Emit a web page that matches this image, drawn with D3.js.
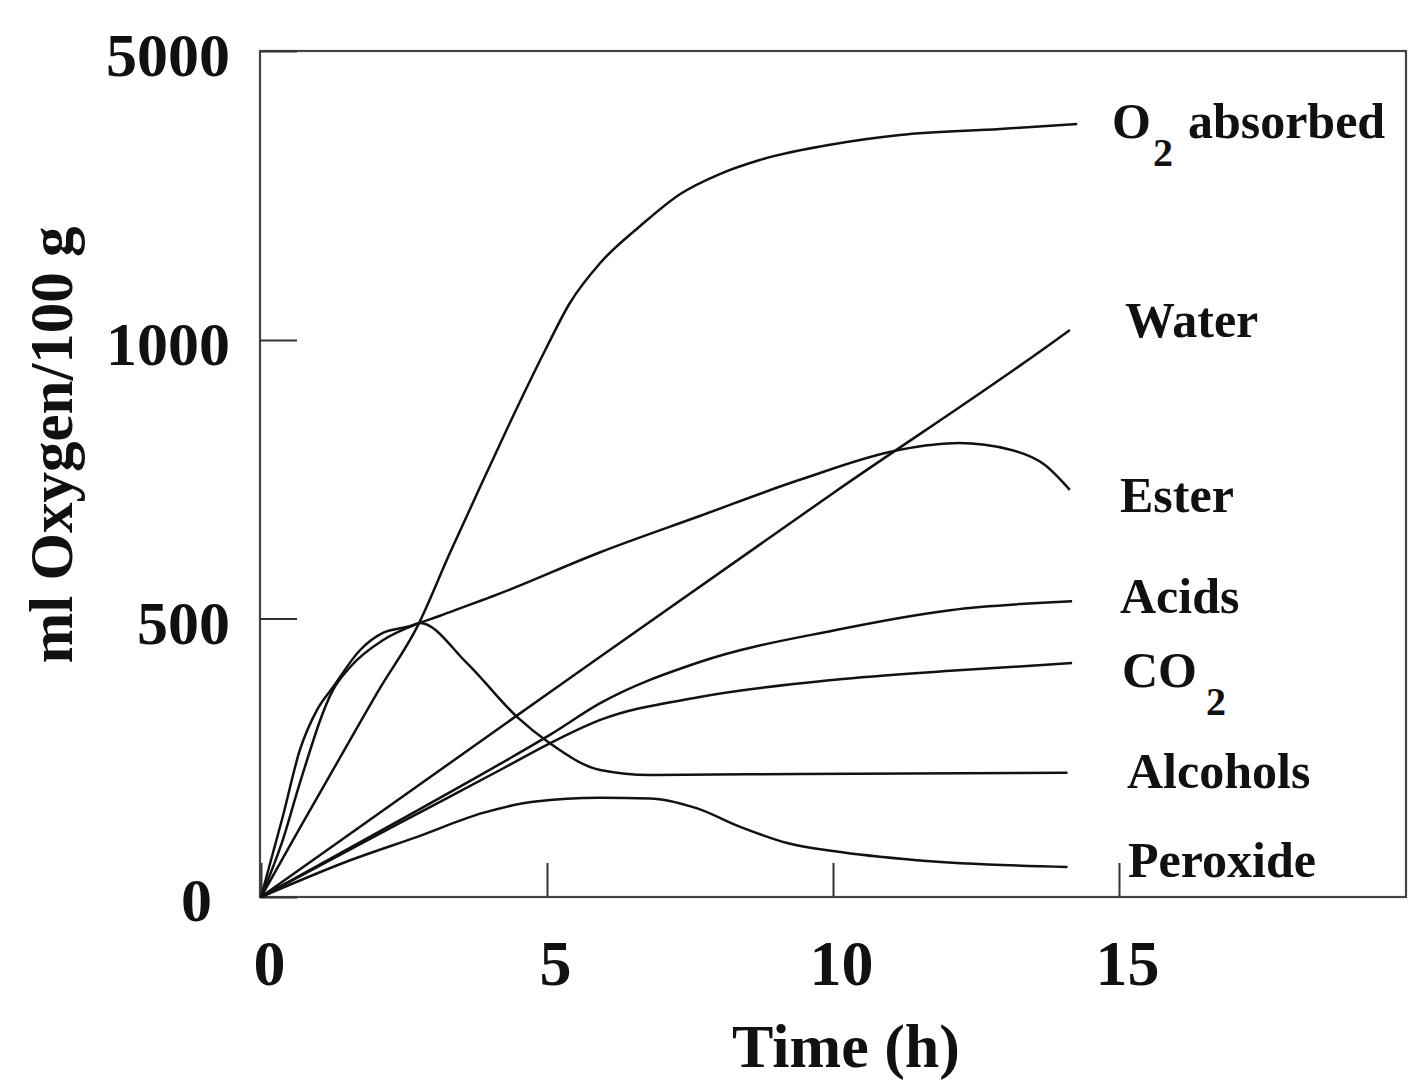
<!DOCTYPE html>
<html>
<head>
<meta charset="utf-8">
<script src="https://cdn.jsdelivr.net/npm/d3@7"></script>
<style>
  body{margin:0;background:#fff;}
  svg{display:block;}
  text{font-family:"Liberation Serif","Times New Roman",serif;font-weight:bold;fill:#111;}
</style>
</head>
<body>
<svg width="1409" height="1083"></svg>
<script>
/* data: [time (h), ml oxygen / 100 g] */
const timeTicks=[0,5,10,15];
const oxygenTicks=[0,500,1000,5000];

const o2Absorbed=[[0,0],[0.68,124],[1.38,250],[2.08,375],[2.73,485],[3.3,617],[3.83,736],[4.35,851],[4.97,982],
    [5.4,1512],[5.93,2066],[6.63,2578],[7.33,3021],[8.02,3297],[8.72,3491],[10.03,3713],[11.17,3837],[12.92,3920],[14.27,3989]];
const water=[[0,0],[5,364],[10,725],[13.9,1000],[14.14,1138]];
const ester=[[0,0],[0.38,102],[0.68,205],[1.26,372],[1.56,413],[2.13,461],[2.6,485],[3.13,505],[4.18,545],
    [5.93,619],[7.67,684],[9.42,749],[11.17,803],[12.2,815],[13.1,803],[13.7,776],[14.14,731]];
const acids=[[0,0],[2.43,138],[4.18,239],[5.05,291],[5.93,348],[7.67,422],[10.03,479],[12.05,515],[14.18,531]];
const co2=[[0,0],[2.43,133],[4.18,228],[5.05,276],[5.93,318],[7.67,359],[10.03,390],[12.05,406],[14.18,420]];
const alcohols=[[0,0],[0.38,144],[0.68,264],[0.98,336],[1.26,377],[1.73,443],[2.13,474],[2.6,486],[2.78,492],
    [3.6,420],[4.48,323],[5.05,276],[5.93,228],[6.8,219],[9.42,221],[14.1,223]];
const peroxide=[[0,0],[1.56,66],[2.73,108],[3.88,151],[4.76,171],[5.93,178],[6.8,177],[7.6,160],[8.4,125],
    [9.2,97],[10.03,82],[11.47,66],[14.1,54]];

const seriesList=[o2Absorbed,water,ester,acids,co2,alcohols,peroxide];

/* labels at the right end: main text, subscript, rest */
const labelMain=['O','Water','Ester','Acids','CO','Alcohols','Peroxide'];
const labelSub=['2','','','','2','',''];
const labelRest=['absorbed','','','','','',''];
const labelX=[1112,1125,1120,1120,1122,1127,1128];
const labelY=[138,337,512,613,687,788,877];

const svg=d3.select('svg');

const x=d3.scaleLinear()
    .domain([0,20])
    .range([261,1405]);

/* broken axis: 0-1000 linear, 1000-5000 squeezed into the top */
const y=d3.scaleLinear()
    .domain([0,1000,5000])
    .range([897,340,51]);

/* frame */
svg.append('rect')
    .attr('x',x(0)-1)
    .attr('y',y(5000))
    .attr('width',x(20)-x(0)+2)
    .attr('height',y(0)-y(5000))
    .attr('fill','none')
    .attr('stroke','#444')
    .attr('stroke-width',2.2)
    ;

const yAxis=svg.append('g')
    .attr('transform',`translate(${x(0)-1},0)`)
    .call(d3.axisLeft(y)
        .tickValues(oxygenTicks)
        .tickFormat(d3.format('d'))
        .tickSizeInner(-37)
        .tickSizeOuter(0)
        .tickPadding(30));
yAxis.select('.domain').remove();
yAxis.selectAll('line').attr('stroke','#333').attr('stroke-width',2);
yAxis.selectAll('text')
    .attr('font-size',62)
    .attr('dy','0.4em')
    .attr('fill','#111')
    .style('font-family','"Liberation Serif","Times New Roman",serif')
    .style('font-weight','bold')
    ;
yAxis.selectAll('.tick').filter(d=>d===0).select('text')
    .attr('dx',-18)
    .attr('dy','0.38em');

const xAxis=svg.append('g')
    .attr('transform',`translate(0,${y(0)})`)
    .call(d3.axisBottom(x)
        .tickValues(timeTicks)
        .tickSizeInner(-34)
        .tickSizeOuter(0)
        .tickPadding(43));
xAxis.select('.domain').remove();
xAxis.selectAll('line').attr('stroke','#333').attr('stroke-width',2);
xAxis.selectAll('text')
    .attr('font-size',64)
    .attr('dx',8)
    .attr('fill','#111')
    .style('font-family','"Liberation Serif","Times New Roman",serif')
    .style('font-weight','bold')
    ;

/* axis titles */
svg.append('text')
    .attr('x',846)
    .attr('y',1067)
    .attr('text-anchor','middle')
    .attr('font-size',62)
    .text('Time (h)');

svg.append('text')
    .attr('transform','translate(72,445) rotate(-90)')
    .attr('text-anchor','middle')
    .attr('font-size',61)
    .text('ml Oxygen/100 g');

/* curves */
const line=d3.line()
    .x(d=>x(d[0]))
    .y(d=>y(d[1]))
    .curve(d3.curveMonotoneX);

svg.append('g')
    .selectAll('path')
    .data(seriesList)
    .join('path')
    .attr('d',line)
    .attr('fill','none')
    .attr('stroke','#111')
    .attr('stroke-width',2.5)
    .attr('stroke-linejoin','round')
    ;

/* series labels, bound by index so the subscripts keep their own entry */
const labels=svg.append('g')
    .selectAll('text')
    .data(labelMain.map((d,i)=>i))
    .join('text')
    .attr('x',i=>labelX[i])
    .attr('y',i=>labelY[i])
    .attr('font-size',50)
    ;
labels.append('tspan').text(i=>labelMain[i]);
labels.filter(i=>labelSub[i]!=='')
    .append('tspan')
    .attr('font-size',40)
    .attr('dx',i=>i===4?9:2)
    .attr('dy',28)
    .text(i=>labelSub[i]);
labels.filter(i=>labelRest[i]!=='')
    .append('tspan')
    .attr('dx',15)
    .attr('dy',-28)
    .text(i=>labelRest[i]);
</script>
</body>
</html>
